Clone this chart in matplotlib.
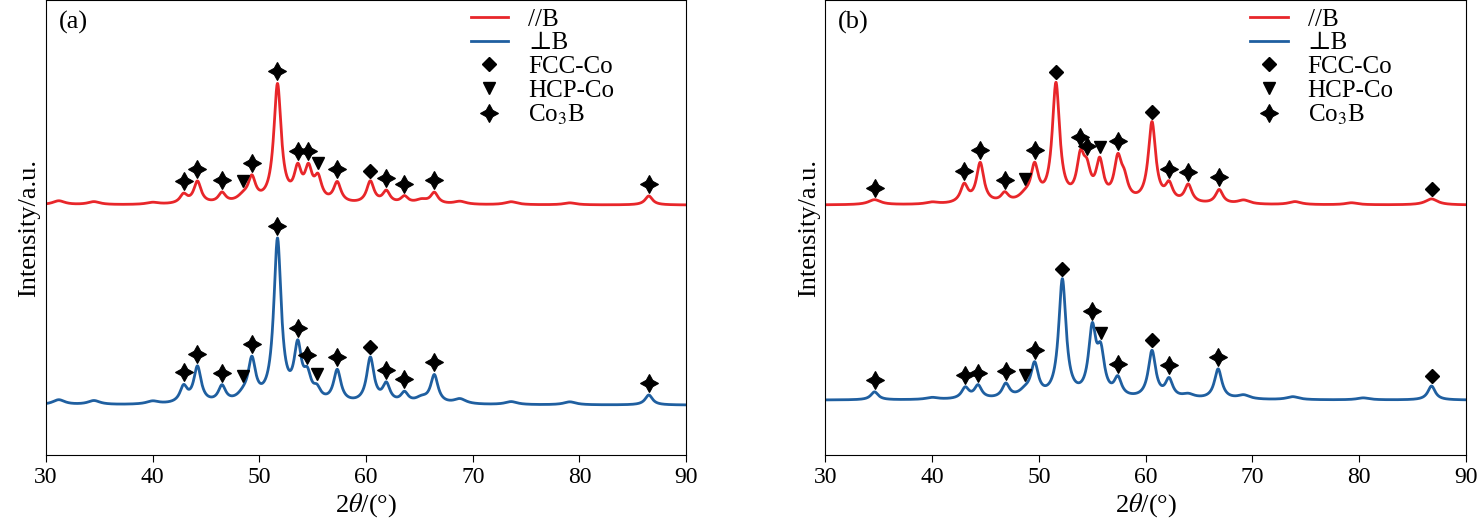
import numpy as np
import matplotlib.pyplot as plt
from matplotlib.lines import Line2D

plt.rcParams['font.family'] = ['Liberation Serif', 'DejaVu Serif']
plt.rcParams['mathtext.fontset'] = 'stix'

RED = '#e8262a'
BLUE = '#1f5fa0'

# peak data: position (deg), height (arb.), phase marker
# 'c' = Co3B, 'f' = FCC-Co, 'h' = HCP-Co, '' = no marker
a_red_pos = [31.2, 34.5, 40.0, 42.9, 44.2, 46.5, 48.5, 49.3, 51.7, 53.6, 54.6, 55.5, 57.3, 60.4, 61.9, 63.6, 65.2, 66.4, 68.8, 73.6, 79.1, 86.5]
a_red_h   = [4, 3, 2, 9, 22, 10, 6, 23, 118, 30, 30, 22, 20, 22, 12, 7, 4, 11, 3, 3, 2, 9]
a_red_m   = ['', '', '', 'c', 'c', 'c', 'h', 'c', 'c', 'c', 'c', 'h', 'c', 'f', 'c', 'c', '', 'c', '', '', '', 'c']

a_blue_pos = [31.2, 34.5, 40.0, 42.9, 44.2, 46.5, 48.5, 49.3, 51.7, 53.6, 54.5, 55.4, 57.3, 60.4, 61.9, 63.6, 65.2, 66.4, 68.8, 73.6, 79.1, 86.5]
a_blue_h   = [5, 4, 3, 16, 36, 16, 6, 40, 162, 52, 22, 10, 32, 45, 18, 10, 5, 28, 5, 3, 3, 10]
a_blue_m   = ['', '', '', 'c', 'c', 'c', 'h', 'c', 'c', 'c', 'c', 'h', 'c', 'f', 'c', 'c', '', 'c', '', '', '', 'c']

b_red_pos = [34.6, 40.0, 43.0, 44.5, 46.8, 48.7, 49.6, 51.6, 53.9, 54.5, 55.7, 57.4, 58.0, 60.6, 62.2, 64.0, 66.9, 69.2, 74.0, 79.3, 86.8]
b_red_h   = [5, 2, 18, 40, 9, 6, 34, 118, 40, 25, 38, 40, 18, 80, 17, 18, 14, 4, 3, 2, 6]
b_red_m   = ['c', '', 'c', 'c', 'c', 'h', 'c', 'f', 'c', 'c', 'h', 'c', '', 'f', 'c', 'c', 'c', '', '', '', 'f']

b_blue_pos = [34.6, 40.0, 43.1, 44.3, 46.9, 48.7, 49.6, 52.2, 55.0, 55.8, 57.4, 60.6, 62.2, 64.0, 66.8, 69.2, 73.8, 80.4, 86.8]
b_blue_h   = [8, 2, 11, 13, 14, 6, 32, 118, 65, 40, 18, 47, 18, 4, 30, 4, 3, 2, 14]
b_blue_m   = ['c', '', 'c', 'c', 'c', 'h', 'c', 'f', 'c', 'h', 'c', 'f', 'c', '', 'c', '', '', '', 'f']

red_base = 250
blue_base_a = 50
blue_base_b = 55

x = np.linspace(30, 90, 3000)


def pattern(pos, h, base):
    y = np.full_like(x, base, dtype=float)
    for p, hh in zip(pos, h):
        w = 0.42 if hh > 6 else 0.7
        y += hh / (1 + ((x - p) / w) ** 2)
    return y


def markers(ax, pos, h, m, base):
    y = pattern(pos, h, base)
    for p, mk in zip(pos, m):
        if not mk:
            continue
        top = np.interp(p, x, y)
        if mk == 'c':
            ax.plot(p, top + 12, marker=(4, 1, 0), ms=13, color='black', mew=0.8)
        elif mk == 'f':
            ax.plot(p, top + 10, marker='D', ms=7, color='black')
        else:
            ax.plot(p, top + 10, marker='v', ms=9, color='black')


fig = plt.figure(figsize=(14.82, 5.28), dpi=100)
axes = [fig.add_axes([0.031, 0.138, 0.432, 0.862]),
        fig.add_axes([0.557, 0.138, 0.432, 0.862])]

sets = [
    (a_red_pos, a_red_h, a_red_m, a_blue_pos, a_blue_h, a_blue_m, blue_base_a, '(a)'),
    (b_red_pos, b_red_h, b_red_m, b_blue_pos, b_blue_h, b_blue_m, blue_base_b, '(b)'),
]

for ax, (rp, rh, rm, bp, bh, bm, bb, lab) in zip(axes, sets):
    ax.plot(x, pattern(rp, rh, red_base), color=RED, lw=2)
    ax.plot(x, pattern(bp, bh, bb), color=BLUE, lw=2)
    markers(ax, rp, rh, rm, red_base)
    markers(ax, bp, bh, bm, bb)
    ax.set_xlim(30, 90)
    ax.set_ylim(0, 455)
    ax.set_yticks([])
    ax.set_xticks(range(30, 91, 10))
    ax.tick_params(axis='x', labelsize=17, direction='out', length=5)
    ax.set_xlabel(r'2$\theta$/(°)', fontsize=19, labelpad=2)
    ax.set_ylabel('Intensity/a.u.', fontsize=19)
    ax.text(0.02, 0.975, lab, transform=ax.transAxes, fontsize=19, va='top')
    handles = [
        Line2D([], [], color=RED, lw=2),
        Line2D([], [], color=BLUE, lw=2),
        Line2D([], [], ls='', marker='D', color='black', ms=7),
        Line2D([], [], ls='', marker='v', color='black', ms=9),
        Line2D([], [], ls='', marker=(4, 1, 0), color='black', mew=0.8, ms=13),
    ]
    ax.legend(handles, ['//B', '⊥B', 'FCC-Co', 'HCP-Co', r'Co$_3$B'],
              loc='upper left', bbox_to_anchor=(0.64, 1.015), frameon=False,
              fontsize=18, handlelength=1.5, labelspacing=0.05, borderaxespad=0.2)

fig.savefig('out.png', dpi=100)
